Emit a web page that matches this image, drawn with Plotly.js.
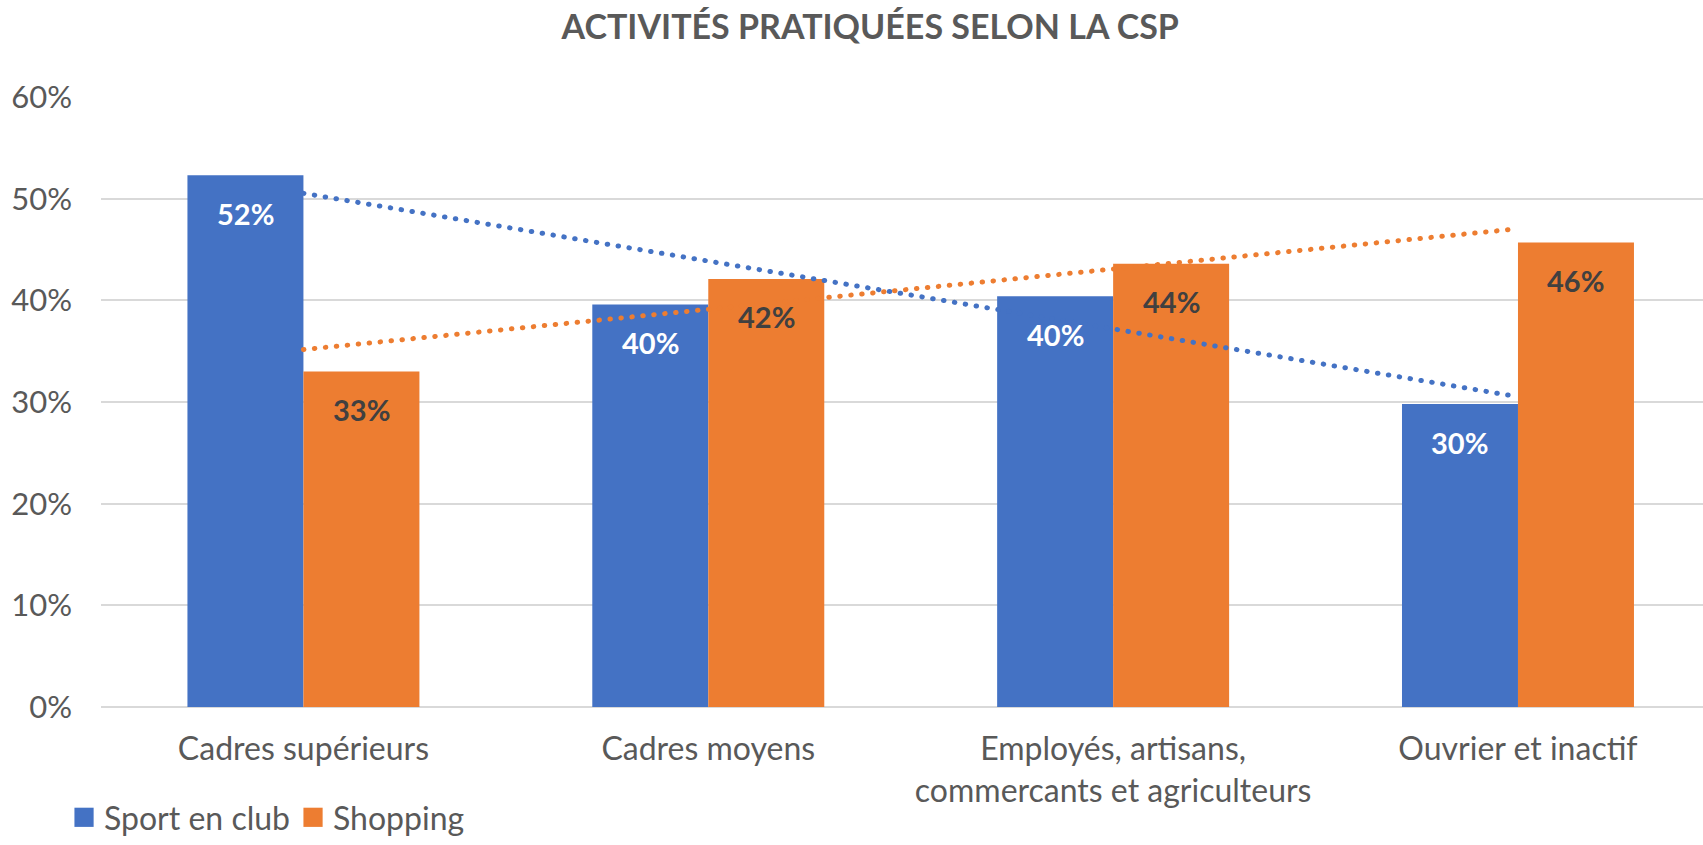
<!DOCTYPE html>
<html>
<head>
<meta charset="utf-8">
<script src="https://cdn.plot.ly/plotly-3.0.1.min.js"></script>
<style>
  html, body { margin: 0; padding: 0; background: #fff; }
  #chart { width: 1703px; height: 845px; }
  .js-line { stroke-linecap: round; }
</style>
</head>
<body>
<div id="chart"></div>
<script>
const categories = [
  "Cadres supérieurs",
  "Cadres moyens",
  "Employés, artisans,<br>commercants et agriculteurs",
  "Ouvrier et inactif"
];
const seriesNames = ["Sport en club", "Shopping"];
const sportEnClub = [0.523, 0.396, 0.404, 0.298];
const shopping = [0.330, 0.421, 0.436, 0.457];
const yTickVals = [0, 0.1, 0.2, 0.3, 0.4, 0.5, 0.6];
const yTickText = ["0%", "10%", "20%", "30%", "40%", "50%", "60%"];

const BLUE = "#4472C4";
const ORANGE = "#ED7D31";
const FONT = "Lato, 'Open Sans', sans-serif";

function linearTrend(vals) {
  const n = vals.length;
  const xs = vals.map((_, i) => i + 1);
  const mx = xs.reduce((a, b) => a + b, 0) / n;
  const my = vals.reduce((a, b) => a + b, 0) / n;
  let num = 0, den = 0;
  for (let i = 0; i < n; i++) { num += (xs[i] - mx) * (vals[i] - my); den += (xs[i] - mx) ** 2; }
  const slope = num / den;
  return xs.map(x => my + slope * (x - mx));
}

const bargap = 0.427;
const barW = (1 - bargap) / 2;

const traces = [
  { type: "bar", name: seriesNames[0], x: categories, y: sportEnClub, marker: { color: BLUE }, hoverinfo: "none" },
  { type: "bar", name: seriesNames[1], x: categories, y: shopping, marker: { color: ORANGE }, hoverinfo: "none" },
  { type: "scatter", mode: "lines", x: categories, y: linearTrend(sportEnClub), showlegend: false,
    line: { color: BLUE, width: 5, dash: "0.5px,10.5px" }, hoverinfo: "none" },
  { type: "scatter", mode: "lines", x: categories, y: linearTrend(shopping), showlegend: false,
    line: { color: ORANGE, width: 5, dash: "0.5px,10.5px" }, hoverinfo: "none" }
];

const annotations = [];
categories.forEach((c, i) => {
  annotations.push({ x: i - barW / 2, y: sportEnClub[i], xref: "x", yref: "y",
    text: Math.round(sportEnClub[i] * 100) + "%", showarrow: false, yshift: -38, yanchor: "middle",
    font: { family: FONT, size: 29, color: "#ffffff", weight: "bold" } });
  annotations.push({ x: i + barW / 2, y: shopping[i], xref: "x", yref: "y",
    text: Math.round(shopping[i] * 100) + "%", showarrow: false, yshift: -38, yanchor: "middle",
    font: { family: FONT, size: 29, color: "#404040", weight: "bold" } });
});

const layout = {
  width: 1703, height: 845,
  margin: { l: 101, r: 0, t: 97, b: 138, pad: 0, autoexpand: false },
  paper_bgcolor: "#ffffff", plot_bgcolor: "#ffffff",
  font: { family: FONT, size: 32, color: "#595959" },
  title: { text: "ACTIVITÉS PRATIQUÉES SELON LA CSP", xref: "container", yref: "container",
    x: 0.511, xanchor: "center", y: 0.968, yanchor: "middle",
    font: { family: FONT, size: 34, color: "#595959", weight: "bold" } },
  barmode: "group", bargap: bargap, bargroupgap: 0,
  xaxis: { type: "category", range: [-0.5, 3.457], showgrid: false, zeroline: false, automargin: false,
    showline: false, ticks: "", ticklabelstandoff: 20, tickfont: { size: 32, color: "#595959" }, fixedrange: true },
  yaxis: { range: [0, 0.6], tickvals: yTickVals, ticktext: yTickText, showgrid: true, automargin: false,
    gridcolor: "#d9d9d9", gridwidth: 2, zeroline: true, zerolinecolor: "#d9d9d9", zerolinewidth: 2,
    showline: false, ticks: "", ticklabelstandoff: 28, tickfont: { size: 31, color: "#595959" }, fixedrange: true },
  showlegend: true,
  legend: { orientation: "h", xref: "container", yref: "container", x: 0.0376, xanchor: "left",
    y: 0.0, yanchor: "bottom", entrywidth: 184, tracegroupgap: 0,
    font: { family: FONT, size: 32, color: "#595959" }, bgcolor: "rgba(0,0,0,0)", itemwidth: 30 },
  annotations: annotations
};

Plotly.newPlot("chart", traces, layout, { staticPlot: true, displayModeBar: false }).then(gd => {
  gd.querySelectorAll(".legend .legendpoints path").forEach(p => {
    const t = p.getAttribute("transform") || "";
    p.setAttribute("transform", t + " scale(1.6)");
  });
});
</script>
</body>
</html>
